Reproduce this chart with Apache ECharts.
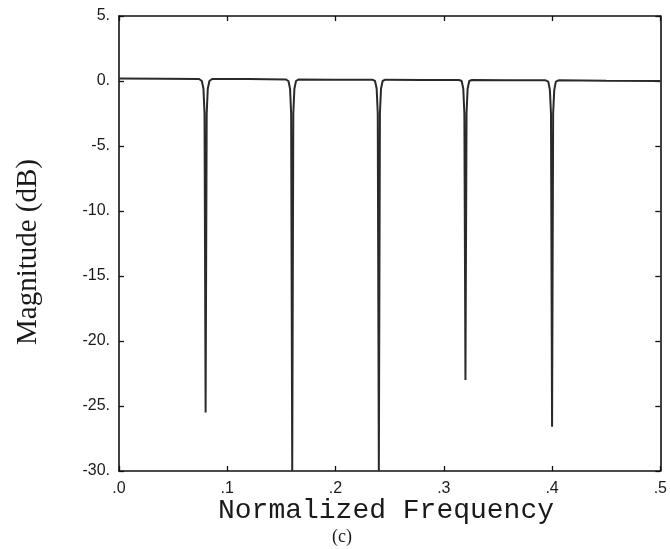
<!DOCTYPE html>
<html>
<head>
<meta charset="utf-8">
<script src="https://cdn.jsdelivr.net/npm/echarts@6/dist/echarts.min.js"></script>
<style>html,body{margin:0;padding:0;background:#fff}#c{width:670px;height:549px}</style>
</head>
<body>
<div id="c"></div>
<script>
// Normalized frequency samples
var freq = [
  0.000, 0.040,
  0.074, 0.0765, 0.078, 0.079, 0.080, 0.081, 0.082, 0.0835, 0.086,
  0.120,
  0.154, 0.1565, 0.158, 0.159, 0.160, 0.161, 0.162, 0.1635, 0.166,
  0.200,
  0.234, 0.2365, 0.238, 0.239, 0.240, 0.241, 0.242, 0.2435, 0.246,
  0.280,
  0.314, 0.3165, 0.318, 0.319, 0.320, 0.321, 0.322, 0.3235, 0.326,
  0.360,
  0.394, 0.3965, 0.398, 0.399, 0.400, 0.401, 0.402, 0.4035, 0.406,
  0.450, 0.500
];
// Magnitude (dB)
var magnitude = [
  0.20, 0.18,
  0.15, 0.00, -0.6, -2.5, -25.5, -2.5, -0.6, 0.00, 0.15,
  0.15,
  0.12, 0.00, -0.6, -2.5, -30.0, -2.5, -0.6, 0.00, 0.12,
  0.10,
  0.10, 0.00, -0.6, -2.5, -30.0, -2.5, -0.6, 0.00, 0.10,
  0.08,
  0.08, 0.00, -0.6, -2.5, -23.0, -2.5, -0.6, 0.00, 0.08,
  0.05,
  0.05, -0.05, -0.7, -2.5, -26.6, -2.5, -0.7, -0.05, 0.05,
  0.02, 0.00
];
var xTicks = [0, 0.1, 0.2, 0.3, 0.4, 0.5];
var yTicks = [5, 0, -5, -10, -15, -20, -25, -30];

var xAxisTitle = 'Normalized Frequency';
var yAxisTitle = 'Magnitude (dB)';
var caption = '(c)';

var pts = freq.map(function (f, i) { return [f, magnitude[i]]; });

var chart = echarts.init(document.getElementById('c'), null, {renderer: 'canvas'});
var axisLine = {show: true, onZero: false, lineStyle: {color: '#111', width: 1.6}};
var tickStyle = {show: true, inside: true, length: 5, lineStyle: {color: '#111', width: 1.3}};
var labelFont = {fontFamily: 'Liberation Sans, Arial, sans-serif', fontSize: 16, color: '#1a1a1a'};

chart.setOption({
  animation: false,
  backgroundColor: '#fff',
  grid: {left: 119, right: 8, top: 16, bottom: 78, containLabel: false},
  xAxis: [{
    type: 'value', min: xTicks[0], max: xTicks[xTicks.length - 1], interval: 0.1,
    position: 'bottom',
    axisLine: axisLine, axisTick: tickStyle, splitLine: {show: false},
    axisLabel: Object.assign({margin: 10, formatter: function (v) { return v.toFixed(1).replace(/^0/, ''); }}, labelFont)
  }, {
    type: 'value', min: xTicks[0], max: xTicks[xTicks.length - 1], interval: 0.1,
    position: 'top',
    axisLine: axisLine, axisTick: tickStyle, splitLine: {show: false},
    axisLabel: {show: false}
  }],
  yAxis: [{
    type: 'value', min: yTicks[yTicks.length - 1], max: yTicks[0], interval: 5,
    position: 'left',
    axisLine: axisLine, axisTick: tickStyle, splitLine: {show: false},
    axisLabel: Object.assign({margin: 9, formatter: function (v) { return v + '.'; }}, labelFont)
  }, {
    type: 'value', min: yTicks[yTicks.length - 1], max: yTicks[0], interval: 5,
    position: 'right',
    axisLine: axisLine, axisTick: tickStyle, splitLine: {show: false},
    axisLabel: {show: false}
  }],
  series: [{
    type: 'line', data: pts, xAxisIndex: 0, yAxisIndex: 0,
    showSymbol: false, symbol: 'none', smooth: false, clip: true,
    lineStyle: {color: '#2a2a2a', width: 2}
  }],
  graphic: [{
    type: 'text',
    position: [386, 511],
    style: {text: xAxisTitle, x: 0, y: 0, textAlign: 'center', textVerticalAlign: 'middle',
      font: '28px "Liberation Mono", "DejaVu Sans Mono", monospace', fill: '#1a1a1a'}
  }, {
    type: 'text',
    position: [342, 537],
    style: {text: caption, x: 0, y: 0, textAlign: 'center', textVerticalAlign: 'middle',
      font: '18px "Liberation Serif", "Times New Roman", serif', fill: '#1a1a1a'}
  }, {
    type: 'text',
    rotation: Math.PI / 2,
    position: [28, 252],
    style: {text: yAxisTitle, x: 0, y: 0, textAlign: 'center', textVerticalAlign: 'middle',
      font: '29px "Liberation Serif", "Times New Roman", serif', fill: '#1a1a1a'}
  }]
});
</script>
</body>
</html>
